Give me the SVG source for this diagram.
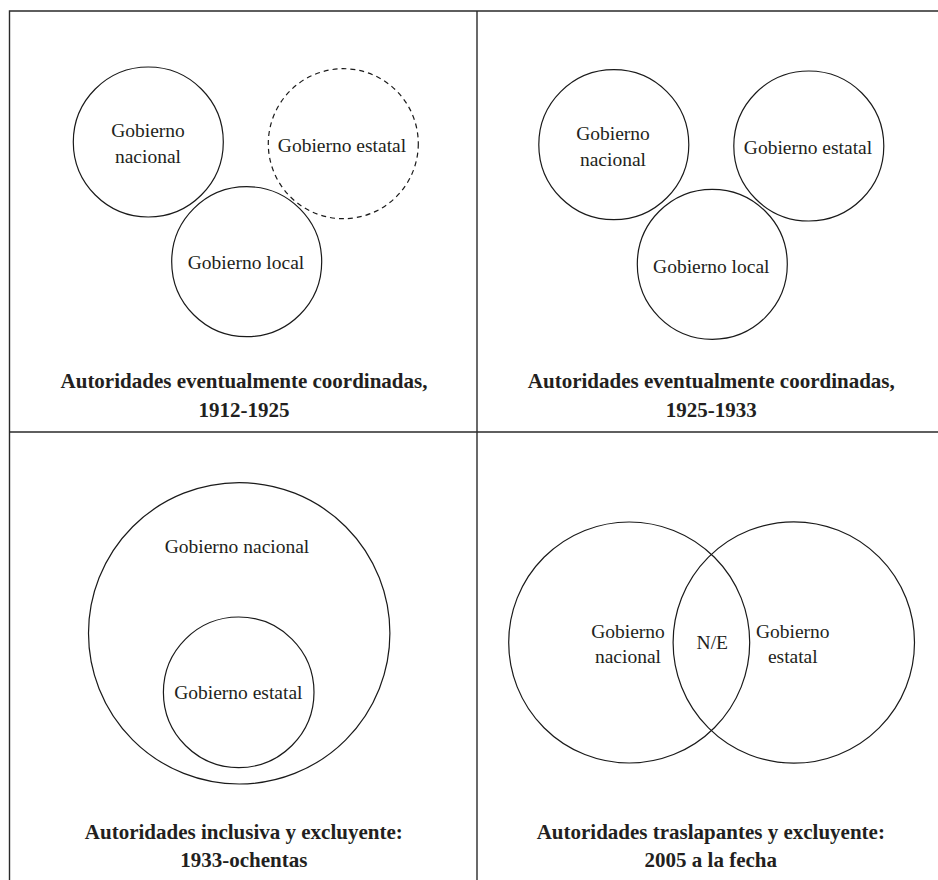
<svg xmlns="http://www.w3.org/2000/svg" width="938" height="880" viewBox="0 0 938 880">
<style>
.frame{fill:none;stroke:#2a2a2a;stroke-width:1.4}
.c{fill:none;stroke:#1a1a1a;stroke-width:1.2}
.d{fill:none;stroke:#1a1a1a;stroke-width:1.2;stroke-dasharray:5 4}
.t{font-family:"Liberation Serif",serif;font-size:19.5px;fill:#231f20;text-anchor:middle}
.h{font-family:"Liberation Serif",serif;font-size:21px;font-weight:bold;fill:#231f20;text-anchor:middle}
</style>
<rect width="938" height="880" fill="#ffffff"/>
<g id="frame">
<path class="frame" d="M9.5 880 V11 H938"/>
<path class="frame" d="M9.5 432 H938"/>
<path class="frame" d="M477 11 V880"/>
</g>
<g id="panel1">
<g id="p1-nacional"><circle class="c" cx="148.3" cy="142" r="75"/><text class="t" x="148" y="137">Gobierno</text><text class="t" x="148" y="163">nacional</text></g>
<g id="p1-estatal"><circle class="d" cx="343.3" cy="143.7" r="75"/><text class="t" x="342" y="152">Gobierno estatal</text></g>
<g id="p1-local"><circle class="c" cx="246.7" cy="261.7" r="75"/><text class="t" x="246" y="269">Gobierno local</text></g>
<g id="p1-title"><text class="h" x="244" y="388">Autoridades eventualmente coordinadas,</text><text class="h" x="244" y="417">1912-1925</text></g>
</g>
<g id="panel2">
<g id="p2-nacional"><circle class="c" cx="613.8" cy="144.7" r="75"/><text class="t" x="613" y="140">Gobierno</text><text class="t" x="613" y="165.7">nacional</text></g>
<g id="p2-estatal"><circle class="c" cx="808.8" cy="146" r="75"/><text class="t" x="808" y="154">Gobierno estatal</text></g>
<g id="p2-local"><circle class="c" cx="712.3" cy="264.3" r="75"/><text class="t" x="711.3" y="272.7">Gobierno local</text></g>
<g id="p2-title"><text class="h" x="711.3" y="388">Autoridades eventualmente coordinadas,</text><text class="h" x="711.3" y="417">1925-1933</text></g>
</g>
<g id="panel3">
<g id="p3-nacional"><circle class="c" cx="239.2" cy="633.3" r="150.7"/><text class="t" x="237" y="552.7">Gobierno nacional</text></g>
<g id="p3-estatal"><circle class="c" cx="238.7" cy="692.3" r="75.3"/><text class="t" x="238.3" y="699.3">Gobierno estatal</text></g>
<g id="p3-title"><text class="h" x="243.8" y="839.3">Autoridades inclusiva y excluyente:</text><text class="h" x="243.8" y="867.3">1933-ochentas</text></g>
</g>
<g id="panel4">
<g id="p4-nacional"><circle class="c" cx="629.2" cy="642.5" r="120.5"/><text class="t" x="628" y="638.3">Gobierno</text><text class="t" x="628" y="662.7">nacional</text></g>
<g id="p4-estatal"><circle class="c" cx="793.8" cy="642.5" r="120.7"/><text class="t" x="792.8" y="638.3">Gobierno</text><text class="t" x="792.8" y="662.7">estatal</text></g>
<g id="p4-ne"><text class="t" x="712.3" y="649">N/E</text></g>
<g id="p4-title"><text class="h" x="710.8" y="839.3">Autoridades traslapantes y excluyente:</text><text class="h" x="710.8" y="867.3">2005 a la fecha</text></g>
</g>
<g id="connectors"/>
</svg>
